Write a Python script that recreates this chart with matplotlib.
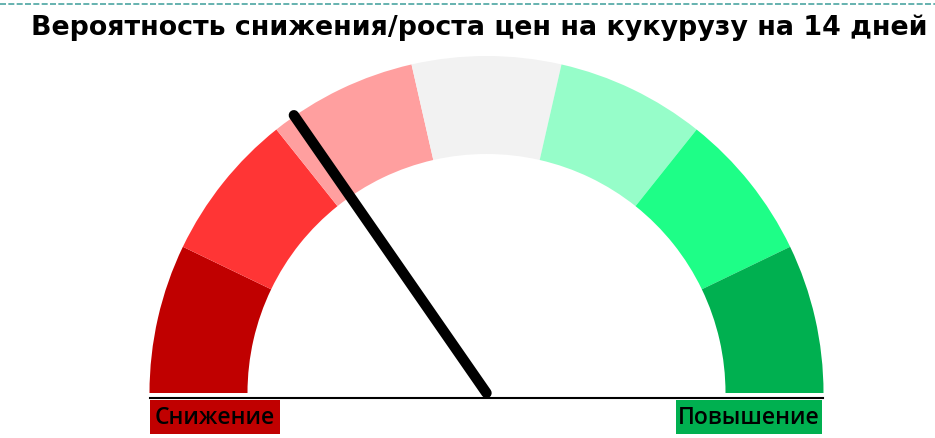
import numpy as np
import matplotlib
matplotlib.use("Agg")
import matplotlib.pyplot as plt
from matplotlib.patches import Wedge, Rectangle

# gauge data: 7 equal zones from "down" (left) to "up" (right)
zone_colors = ['#C00000', '#FF3535', '#FF9F9F', '#F2F2F2', '#96FDC9', '#1EFE87', '#00B050']
zone_sizes = [1, 1, 1, 1, 1, 1, 1]
needle_value = 30.7          # percent of scale, 0 = left edge, 100 = right edge
title = 'Вероятность снижения/роста цен на кукурузу на 14 дней'
label_down = 'Снижение'
label_up = 'Повышение'

W, H = 935, 439
fig = plt.figure(figsize=(W / 100, H / 100), dpi=100)
ax = fig.add_axes([0, 0, 1, 1])
ax.set_xlim(0, W)
ax.set_ylim(0, H)
ax.axis('off')

cx, cy = 486.5, H - 394      # gauge centre (pixels, y up)
r_out, r_in = 337, 239

# zones, drawn from the left (180 deg) to the right (0 deg)
edges = np.concatenate([[0], np.cumsum(zone_sizes)]) / np.sum(zone_sizes)
for i, col in enumerate(zone_colors):
    a1 = 180 - edges[i + 1] * 180
    a2 = 180 - edges[i] * 180
    ax.add_patch(Wedge((cx, cy), r_out, a1, a2, width=r_out - r_in,
                       facecolor=col, edgecolor='none'))

# needle
ang = np.radians(180 - needle_value / 100 * 180)
ax.plot([cx, cx + 338 * np.cos(ang)], [cy, cy + 338 * np.sin(ang)],
        color='black', lw=7.5, solid_capstyle='round', zorder=5)

# base line
ax.plot([150, 823], [H - 399, H - 399], color='black', lw=1.5, zorder=4)

# labels under the gauge
lab_font = ['Open Sans', 'DejaVu Sans']
ax.add_patch(Rectangle((150, H - 435), 130, 34, facecolor='#C00000', edgecolor='none'))
ax.text(215, H - 418, label_down, ha='center', va='center', fontsize=16.5,
        family=lab_font, color='black', fontweight='semibold')
ax.add_patch(Rectangle((676, H - 435), 146, 34, facecolor='#00B050', edgecolor='none'))
ax.text(749, H - 418, label_up, ha='center', va='center', fontsize=16.5,
        family=lab_font, color='black', fontweight='semibold')

# title and dashed frame line on top
ax.text(479, H - 28, title, ha='center', va='center', fontsize=19.4,
        fontweight='bold', family=['DejaVu Sans'])
ax.plot([0, W], [H - 4.5, H - 4.5], color='#4BA5A2', lw=1.2, dashes=(3.6, 1.4))

fig.savefig('out.png', dpi=100)
